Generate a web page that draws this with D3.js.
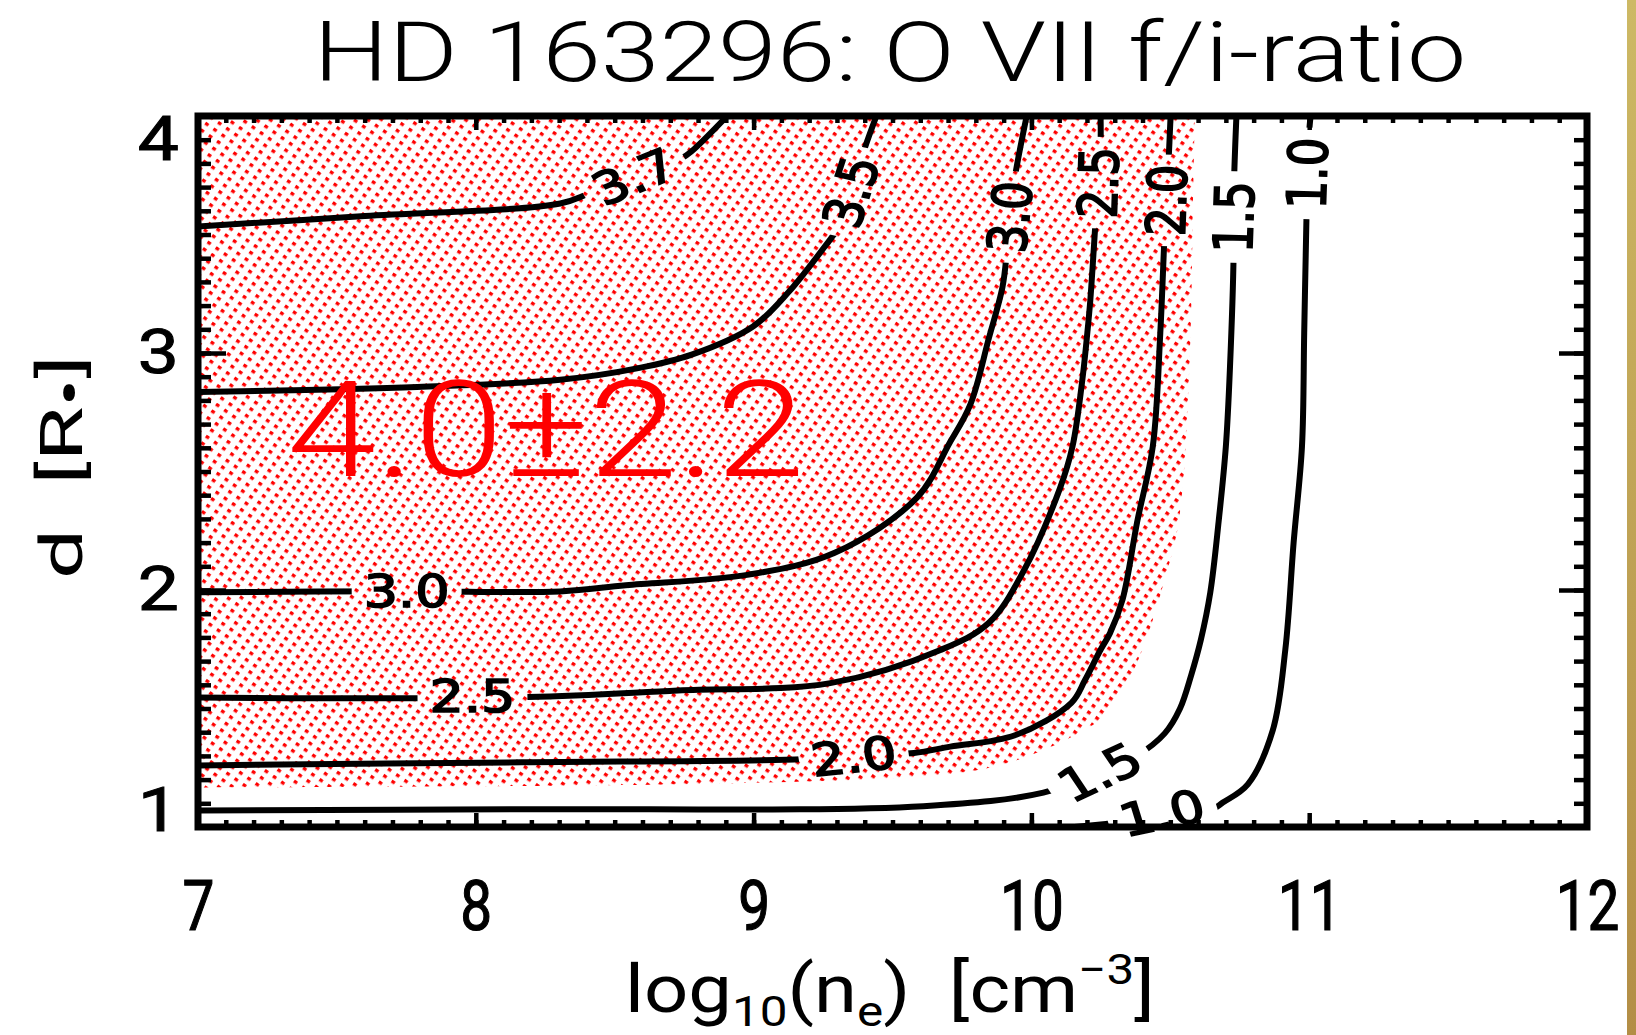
<!DOCTYPE html>
<html>
<head>
<meta charset="utf-8">
<script src="https://cdn.jsdelivr.net/npm/d3@7"></script>
<style>
body { margin:0; background:#fff; }
#plot { width:1636px; height:1035px; position:relative; }
</style>
</head>
<body>
<div id="plot" class="canvas"></div>
<script>
//Drawing environment: the axes box runs from x 198..1587, y 116..827
var W = 1636, H = 1035;
var margin = {t:116, r:49, b:208, l:198};
var width = W - margin.l - margin.r,
	height = H - margin.t - margin.b;

//tick labels
var xTicks = [7, 8, 9, 10, 11, 12];
var yTicks = [1, 2, 3, 4];

//contour lines of the f/i ratio, [log10(ne), d]
var c37 = [[7.000,3.534],[7.601,3.578],[8.304,3.631],[8.412,3.675],[8.570,3.745],[8.739,3.820],[8.777,3.851],[8.905,4.000]];
var c35 = [[7.000,2.835],[7.789,2.857],[8.304,2.887],[8.585,2.936],[8.777,2.993],[8.998,3.112],[9.126,3.257],[9.280,3.486],[9.310,3.534],[9.350,3.680],[9.400,3.864],[9.442,4.000]];
var c30 = [[7.000,1.990],[7.751,1.995],[8.304,1.994],[8.540,2.020],[8.983,2.065],[9.292,2.157],[9.588,2.390],[9.705,2.619],[9.780,2.782],[9.847,3.063],[9.896,3.279],[9.911,3.420],[9.922,3.574],[9.941,3.745],[9.983,4.000]];
var c25 = [[7.000,1.546],[8.187,1.548],[8.728,1.576],[9.276,1.607],[9.675,1.748],[9.847,1.862],[9.971,2.078],[10.103,2.430],[10.148,2.606],[10.182,2.874],[10.201,3.081],[10.212,3.222],[10.231,3.557],[10.240,3.719],[10.249,3.886],[10.249,4.000]];
var c20 = [[7.000,1.260],[8.165,1.273],[9.175,1.286],[9.360,1.300],[9.577,1.312],[9.708,1.339],[9.941,1.387],[10.144,1.524],[10.193,1.620],[10.249,1.748],[10.283,1.818],[10.328,1.959],[10.381,2.289],[10.437,2.606],[10.464,3.085],[10.479,3.490],[10.486,3.644],[10.494,3.816],[10.501,4.000]];
var c15 = [[7.000,1.070],[8.165,1.075],[9.611,1.088],[10.043,1.145],[10.246,1.232],[10.377,1.299],[10.480,1.395],[10.535,1.500],[10.575,1.640],[10.610,1.790],[10.644,1.990],[10.674,2.289],[10.700,2.606],[10.715,2.945],[10.728,3.420],[10.728,3.574],[10.730,3.745],[10.738,4.000]];
var c10 = [[7.000,0.969],[9.667,0.978],[10.043,0.991],[10.268,1.013],[10.470,1.045],[10.644,1.070],[10.689,1.103],[10.779,1.180],[10.869,1.409],[10.914,1.748],[10.944,2.201],[10.974,2.606],[10.982,3.085],[10.990,3.561],[10.997,3.886],[11.005,4.000]];
var contours = [c37, c35, c30, c25, c20, c15, c10];

//contour labels: text, x, y, angle on screen
var labelRows = [
	['3.7', 8.570, 3.745, -22],
	['3.5', 9.350, 3.680, -72],
	['3.0', 7.751, 1.995, 0],
	['3.0', 9.922, 3.574, -84],
	['2.5', 7.988, 1.552, 0],
	['2.5', 10.240, 3.719, -88],
	['2.0', 9.360, 1.300, -6],
	['2.0', 10.486, 3.644, -88],
	['1.5', 10.246, 1.232, -25],
	['1.5', 10.728, 3.574, -88],
	['1.0', 10.470, 1.060, -12],
	['1.0', 10.992, 3.758, -88]
];

//measured ratio region (f/i above 4.0-2.2), edge from top to left border
var hatchEdge = [[10.588,4.000],[10.580,3.508],[10.573,3.085],[10.558,2.663],[10.550,2.509],[10.524,2.245],[10.475,2.025],[10.430,1.849],[10.355,1.629],[10.268,1.475],[10.156,1.387],[9.923,1.273],[9.708,1.224],[8.938,1.185],[7.000,1.167]];
var measured = ['4.0±2.2', 7.32, 2.48];

var svg = d3.select('#plot')
	.append('svg')
	.attr('width', W)
	.attr('height', H);

svg.append('rect').attr('width', W).attr('height', H).attr('fill', '#fff');

//gold strip at the right border of the screenshot
var grad = svg.append('defs').append('linearGradient').attr('id','gold')
	.attr('x1',0).attr('y1',0).attr('x2',0).attr('y2',1);
grad.append('stop').attr('offset','0').attr('stop-color','#cdb965');
grad.append('stop').attr('offset','1').attr('stop-color','#b38e46');
svg.append('rect').attr('x', 1627).attr('y', 0).attr('width', 9).attr('height', H).attr('fill','url(#gold)');

var plot = svg.append('g')
	.attr('class','plot')
	.attr('transform','translate(' + margin.l + ',' + margin.t + ')');

var x = d3.scaleLinear().domain([7, 12]).range([0, width]);
var y = d3.scaleLinear().domain([1, 4]).range([height, 0]);

var defs = svg.append('defs');

defs.append('clipPath').attr('id','box')
	.append('rect').attr('x',0).attr('y',0).attr('width',width).attr('height',height);

var pat = defs.append('pattern').attr('id','hatch')
	.attr('patternUnits','userSpaceOnUse')
	.attr('width', 10).attr('height', 8)
	.attr('patternTransform','rotate(35)');
pat.append('rect').attr('x',0).attr('y',0).attr('width',3.8).attr('height',3.3).attr('fill','#ff0000');

//gaps in the contour lines under the labels
var gap = defs.append('mask').attr('id','gap')
	.attr('maskUnits','userSpaceOnUse')
	.attr('x',-60).attr('y',-60).attr('width',width+120).attr('height',height+120);
gap.append('rect').attr('x',-60).attr('y',-60).attr('width',width+120).attr('height',height+120).attr('fill','#fff');

//hatched region
var edge = d3.line()
	.x(function(d){ return x(d[0]); })
	.y(function(d){ return y(d[1]); })
	.curve(d3.curveCatmullRom.alpha(0.5));

plot.append('path')
	.attr('clip-path','url(#box)')
	.attr('d', edge(hatchEdge) + 'L' + x.range()[0] + ',' + y.range()[1] + 'Z')
	.attr('fill','url(#hatch)');

//contours
plot.append('g')
	.attr('clip-path','url(#box)')
	.append('g')
	.attr('mask','url(#gap)')
	.selectAll('path')
	.data(contours)
	.enter()
	.append('path')
	.attr('d', edge)
	.attr('fill','none')
	.attr('stroke','#000')
	.attr('stroke-width',6)
	.attr('stroke-linejoin','round');

//labels, the picture is stretched 1.2x sideways
var k = 1.2;
function skew(a) {
	var r = a * Math.PI / 180;
	return Math.atan2(k * Math.sin(r), Math.cos(r)) * 180 / Math.PI;
}
var labs = plot.append('g');
labelRows.forEach(function(r){
	var tr = 'translate(' + x(r[1]) + ',' + y(r[2]) + ') scale(' + k + ',1) rotate(' + skew(r[3]) + ')';
	var t = labs.append('g').attr('transform', tr)
		.append('text')
		.attr('text-anchor','middle')
		.attr('dy','0.36em')
		.style('font-family','DejaVu Sans')
		.style('font-size','45px')
		.attr('fill','#000')
		.attr('stroke','#000')
		.attr('stroke-width',1.6)
		.text(r[0]);
	var w = t.node().getComputedTextLength() + 20;
	gap.append('rect')
		.attr('transform', tr)
		.attr('x', -w/2).attr('y', -19)
		.attr('width', w).attr('height', 38)
		.attr('fill','#000');
});

//measured value
var mg = plot.append('g')
	.attr('transform','translate(' + x(measured[1]) + ',' + y(measured[2]) + ')');
var mt = mg.append('text')
	.style('font-family','Roboto')
	.style('font-weight','300')
	.style('font-size','134px')
	.attr('fill','#ff0000')
	.text(measured[0]);
mt.attr('transform','scale(' + (518 / mt.node().getBBox().width) + ',1)');

//ticks
var minorX = d3.range(70, 121).map(function(d){ return d / 10; });
var minorY = d3.range(10, 41).map(function(d){ return d / 10; });

function ticks(axis, tr, vals, len) {
	var g = plot.append('g')
		.attr('transform', tr)
		.call(axis.tickValues(vals).tickSize(len).tickFormat(''));
	g.select('.domain').remove();
	g.selectAll('line').attr('stroke','#000').attr('stroke-width',4.5);
}
ticks(d3.axisBottom(x), 'translate(0,' + height + ')', minorX, -7);
ticks(d3.axisBottom(x), 'translate(0,' + height + ')', xTicks, -14);
ticks(d3.axisTop(x), 'translate(0,0)', minorX, -7);
ticks(d3.axisTop(x), 'translate(0,0)', xTicks, -14);
ticks(d3.axisLeft(y), 'translate(0,0)', minorY, -13);
ticks(d3.axisLeft(y), 'translate(0,0)', yTicks, -28);
ticks(d3.axisRight(y), 'translate(' + width + ',0)', minorY, -13);
ticks(d3.axisRight(y), 'translate(' + width + ',0)', yTicks, -28);

//frame
plot.append('rect')
	.attr('x',0).attr('y',0)
	.attr('width',width).attr('height',height)
	.attr('fill','none')
	.attr('stroke','#000')
	.attr('stroke-width',7);

//tick labels
var xLab = plot.append('g')
	.attr('transform','translate(0,' + height + ')')
	.call(d3.axisBottom(x).tickValues(xTicks).tickSize(0).tickPadding(53).tickFormat(d3.format('d')));
xLab.select('.domain').remove();
xLab.selectAll('text')
	.attr('fill','#000')
	.attr('stroke','#000')
	.attr('stroke-width',1.2)
	.style('font-family','Roboto')
	.style('font-size','70px')
	.attr('transform','scale(0.81,1)');

var yLab = plot.append('g')
	.call(d3.axisLeft(y).tickValues(yTicks).tickSize(0).tickPadding(19).tickFormat(d3.format('d')));
yLab.select('.domain').remove();
yLab.selectAll('text')
	.attr('fill','#000')
	.attr('stroke','#000')
	.attr('stroke-width',1)
	.style('font-family','Roboto')
	.style('font-size','61px')
	.attr('x', -19 / 1.2)
	.attr('transform','scale(1.2,1)')
	.attr('y', function(d){ return Math.max(24, Math.min(height - 16, y(d))) - y(d); });

//title
var tg = svg.append('g').attr('transform','translate(890,81)');
var tt = tg.append('text')
	.attr('text-anchor','middle')
	.style('font-family','Roboto')
	.style('font-weight','300')
	.style('font-size','84px')
	.attr('fill','#000')
	.text('HD 163296: O VII f/i-ratio');
tt.attr('transform','scale(' + (1153 / tt.node().getBBox().width) + ',1)');

//x axis title
var xg = svg.append('g').attr('transform','translate(890,1012)');
var xt = xg.append('text')
	.attr('text-anchor','middle')
	.style('font-family','Roboto')
	.style('font-size','66px')
	.attr('fill','#000');
xt.append('tspan').text('log');
xt.append('tspan').attr('dy',14).style('font-size','42px').text('10');
xt.append('tspan').attr('dy',-14).text('(n');
xt.append('tspan').attr('dy',14).style('font-size','42px').text('e');
xt.append('tspan').attr('dy',-14).text(')\u00a0\u00a0[cm');
xt.append('tspan').attr('dy',-28).style('font-size','42px').text('\u22123');
xt.append('tspan').attr('dy',28).text(']');
xt.attr('transform','scale(' + (530 / xt.node().getBBox().width) + ',1)');

//y axis title
var yg = svg.append('g').attr('transform','translate(82,467) rotate(-90)');
var yt = yg.append('text')
	.attr('text-anchor','middle')
	.style('font-family','Roboto')
	.style('font-size','60px')
	.attr('fill','#000');
yt.append('tspan').text('d\u00a0\u00a0[R');
yt.append('tspan').attr('dy',8).style('font-size','56px').text('\u2022');
yt.append('tspan').attr('dy',-8).text(']');
yt.attr('transform','scale(' + (224 / yt.node().getBBox().width) + ',1)');
</script>
</body>
</html>
